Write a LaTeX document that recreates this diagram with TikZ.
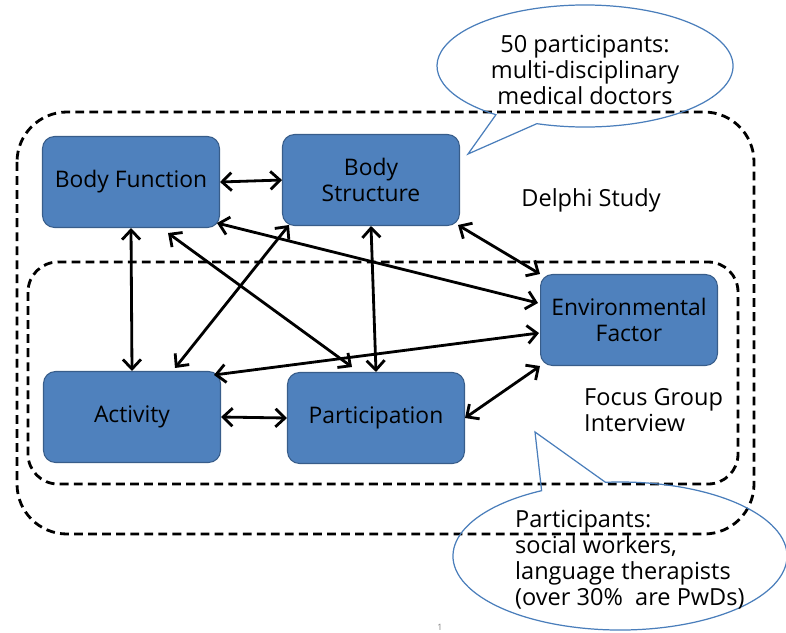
\documentclass[tikz,border=0pt]{standalone}
\usepackage{fontspec}
\setmainfont{Open Sans}
\usepackage{tikz}
\usetikzlibrary{calc,arrows.meta}

\definecolor{boxblue}{RGB}{79,129,189}
\definecolor{boxedge}{RGB}{56,93,138}
\definecolor{bubbleline}{RGB}{74,126,187}

\begin{document}
\begin{tikzpicture}[x=0.02cm, y=0.02cm,
  factor/.style={draw=boxedge, fill=boxblue, line width=0.6pt, rounded corners=0.24cm,
    minimum width=3.54cm, minimum height=1.82cm, align=center, font=\fontsize{13}{15}\selectfont},
  link/.style={{Straight Barb[length=1.9mm,width=3.6mm]}-{Straight Barb[length=1.9mm,width=3.6mm]}, line width=1.6pt},
  studyline/.style={line width=1.6pt, dash pattern=on 5pt off 3pt},
  bubble/.style={draw=bubbleline, line width=0.7pt},
  note/.style={font=\fontsize{13.4}{14.8}\selectfont}]
			\useasboundingbox (0,0) rectangle (786,-632);
			
			% ICF components
			\node[factor] (bf) at (131,-182) {Body Function};
			\node[factor] (bs) at (371,-180) {Body\\Structure};
			\node[factor] (ef) at (629,-320) {Environmental\\Factor};
			\node[factor] (act) at (132,-417) {Activity};
			\node[factor] (par) at (376,-418) {Participation};
			
			% Study groups (dashed frames)
			\draw[studyline, rounded corners=1cm] (17,-112) rectangle (754,-534);
			\draw[studyline, rounded corners=0.6cm] (28,-262) rectangle (738,-484);
			\node[note] (delphi) at (591,-200) {Delphi Study};
			\node[note, anchor=west, align=left] (fgi) at (578,-410) {Focus Group\\Interview};
			
			% Links between components
			\draw[link] (bf.east) -- (bs.west);
			\draw[link] (bf.south) -- (act.north);
			\draw[link] ($(bf.south)+(37,-5)$) -- ($(par.north)+(-24,5)$);
			\draw[link] ($(bf.south east)+(-3,5)$) -- ($(ef.west)+(-2,17)$);
			\draw[link] ($(bs.south west)+(7,1)$) -- ($(act.north)+(43,3)$);
			\draw[link] (bs.south) -- (par.north);
			\draw[link] ($(bs.south east)+(-2,1)$) -- (ef.north west);
			\draw[link] ($(act.north east)+(-7,-4)$) -- ($(ef.west)+(-1,-13)$);
			\draw[link] (act.east) -- (par.west);
			\draw[link] (par.east) -- (ef.south west);
			
			% Callout: Delphi participants
			\coordinate (c1) at (585,-66);
			\coordinate (tip1) at (468,-154);
			\draw[bubble] ($(c1)+(251:148 and 61)$) arc[start angle=251, end angle=593, x radius=148, y radius=61] -- (tip1) -- cycle;
			\node[note, align=center] (drs) at (585,-70) {50 participants:\\multi-disciplinary\\medical doctors};
			
			% Callout: focus group participants
			\coordinate (c2) at (620,-556);
			\coordinate (tip2) at (535,-432);
			\draw[bubble] ($(c2)+(118:167 and 74)$) arc[start angle=118, end angle=455, x radius=167, y radius=74] -- (tip2) -- cycle;
			\node[note, anchor=west, align=left] (pwd) at (509,-560) {Participants:\\social workers,\\language therapists\\(over 30\%\ \ are PwDs)};
			
			% page number
			\node[font=\tiny, text=gray] (pg) at (440,-627) {1};
		\end{tikzpicture}
\end{document}
